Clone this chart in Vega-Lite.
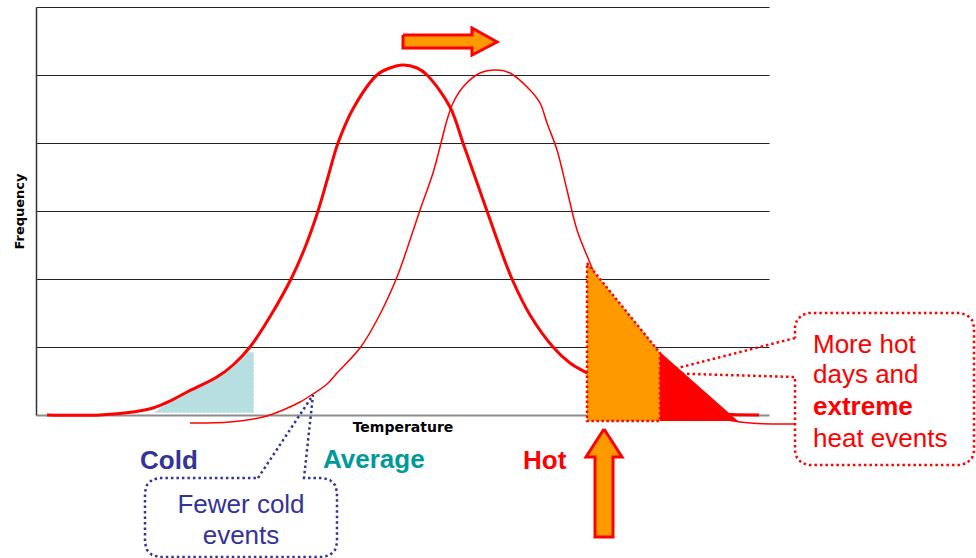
{
  "$schema": "https://vega.github.io/schema/vega-lite/v6.json",
  "width": 733,
  "height": 408,
  "autosize": {"type": "none"},
  "padding": {"left": 36, "top": 7, "right": 207, "bottom": 143},
  "background": "white",
  "config": {"view": {"stroke": null}, "font": "Liberation Sans"},
  "datasets": {
    "thick": [
      {"x": 11, "y": 0}, {"x": 64, "y": 0}, {"x": 97, "y": 3}, {"x": 117, "y": 7}, {"x": 134, "y": 14},
      {"x": 151, "y": 23}, {"x": 181, "y": 38}, {"x": 197, "y": 50}, {"x": 214, "y": 68}, {"x": 235, "y": 100},
      {"x": 256, "y": 138}, {"x": 270, "y": 170}, {"x": 282, "y": 204}, {"x": 292, "y": 238}, {"x": 302, "y": 272},
      {"x": 318, "y": 308}, {"x": 341, "y": 340}, {"x": 354, "y": 347}, {"x": 367, "y": 350}, {"x": 381, "y": 347},
      {"x": 391, "y": 340}, {"x": 414, "y": 308}, {"x": 427, "y": 272}, {"x": 439, "y": 238}, {"x": 451, "y": 204},
      {"x": 463, "y": 170}, {"x": 476, "y": 136}, {"x": 494, "y": 100}, {"x": 517, "y": 68}, {"x": 534, "y": 52},
      {"x": 551, "y": 42}, {"x": 574, "y": 30}, {"x": 604, "y": 15}, {"x": 644, "y": 5}, {"x": 684, "y": 1},
      {"x": 723, "y": 0}
    ],
    "thin": [
      {"x": 154, "y": -8}, {"x": 194, "y": -7}, {"x": 227, "y": -2}, {"x": 247, "y": 5}, {"x": 264, "y": 13},
      {"x": 277, "y": 21}, {"x": 291, "y": 31}, {"x": 301, "y": 42}, {"x": 324, "y": 67}, {"x": 341, "y": 95},
      {"x": 361, "y": 138}, {"x": 374, "y": 175}, {"x": 384, "y": 205}, {"x": 397, "y": 242}, {"x": 404, "y": 268},
      {"x": 411, "y": 295}, {"x": 417, "y": 312}, {"x": 427, "y": 328}, {"x": 444, "y": 342}, {"x": 461, "y": 345},
      {"x": 474, "y": 342}, {"x": 494, "y": 325}, {"x": 504, "y": 312}, {"x": 511, "y": 292}, {"x": 521, "y": 265},
      {"x": 531, "y": 225}, {"x": 541, "y": 185}, {"x": 554, "y": 152}, {"x": 574, "y": 105}, {"x": 604, "y": 55},
      {"x": 634, "y": 20}, {"x": 664, "y": 3}, {"x": 704, "y": -7}, {"x": 759, "y": -9}
    ],
    "cold": [
      {"x": 117, "y": 2}, {"x": 134, "y": 14}, {"x": 151, "y": 22}, {"x": 181, "y": 38}, {"x": 197, "y": 49},
      {"x": 212, "y": 63}, {"x": 218, "y": 63}
    ],
    "orange": [{"x": 551, "y": 152}, {"x": 624, "y": 62}],
    "redtri": [{"x": 624, "y": 63}, {"x": 702, "y": -6}],
    "arrowH": [
      {"i": 0, "x": 367, "y": 380}, {"i": 1, "x": 436, "y": 380}, {"i": 2, "x": 436, "y": 387}, {"i": 3, "x": 461, "y": 373},
      {"i": 4, "x": 436, "y": 360}, {"i": 5, "x": 436, "y": 367}, {"i": 6, "x": 367, "y": 367}, {"i": 7, "x": 367, "y": 380}
    ],
    "arrowV": [
      {"i": 0, "x": 568, "y": -14}, {"i": 1, "x": 586, "y": -42}, {"i": 2, "x": 577, "y": -42}, {"i": 3, "x": 577, "y": -122},
      {"i": 4, "x": 559, "y": -122}, {"i": 5, "x": 559, "y": -42}, {"i": 6, "x": 550, "y": -42}, {"i": 7, "x": 568, "y": -14}
    ],
    "calloutBlue": [
      {"i": 0, "x": 222, "y": -63}, {"i": 1, "x": 277, "y": 20}, {"i": 2, "x": 268, "y": -63}, {"i": 3, "x": 287, "y": -63},
      {"i": 4, "x": 294, "y": -65}, {"i": 5, "x": 299, "y": -70}, {"i": 6, "x": 301, "y": -77}, {"i": 7, "x": 301, "y": -128},
      {"i": 8, "x": 299, "y": -135}, {"i": 9, "x": 294, "y": -140}, {"i": 10, "x": 287, "y": -142}, {"i": 11, "x": 123, "y": -142},
      {"i": 12, "x": 116, "y": -140}, {"i": 13, "x": 111, "y": -135}, {"i": 14, "x": 109, "y": -128}, {"i": 15, "x": 109, "y": -77},
      {"i": 16, "x": 111, "y": -70}, {"i": 17, "x": 116, "y": -65}, {"i": 18, "x": 123, "y": -63}, {"i": 19, "x": 222, "y": -63}
    ],
    "calloutRed": [
      {"i": 0, "x": 759, "y": 77}, {"i": 1, "x": 622, "y": 42}, {"i": 2, "x": 759, "y": 38}, {"i": 3, "x": 759, "y": -36},
      {"i": 4, "x": 761, "y": -43}, {"i": 5, "x": 766, "y": -48}, {"i": 6, "x": 773, "y": -50}, {"i": 7, "x": 924, "y": -50},
      {"i": 8, "x": 931, "y": -48}, {"i": 9, "x": 936, "y": -43}, {"i": 10, "x": 938, "y": -36}, {"i": 11, "x": 938, "y": 88},
      {"i": 12, "x": 936, "y": 95}, {"i": 13, "x": 931, "y": 100}, {"i": 14, "x": 924, "y": 102}, {"i": 15, "x": 773, "y": 102},
      {"i": 16, "x": 766, "y": 100}, {"i": 17, "x": 761, "y": 95}, {"i": 18, "x": 759, "y": 88}, {"i": 19, "x": 759, "y": 77}
    ],
    "labels": [
      {"label": "Cold", "x": 104, "y": -54},
      {"label": "Average", "x": 287, "y": -53},
      {"label": "Hot", "x": 487, "y": -54}
    ],
    "blueText": [
      {"line": "Fewer cold", "x": 205, "y": -98},
      {"line": "events", "x": 205, "y": -129}
    ],
    "redText": [
      {"line": "More hot", "x": 777, "y": 62},
      {"line": "days and", "x": 777, "y": 32},
      {"line": "heat events", "x": 777, "y": -32}
    ],
    "redBold": [
      {"line": "extreme", "x": 777, "y": 0}
    ]
  },
  "encoding": {
    "x": {
      "field": "x", "type": "quantitative",
      "scale": {"domain": [0, 733], "nice": false, "zero": false},
      "axis": {
        "title": "Temperature", "labels": false, "ticks": false, "grid": false,
        "domainColor": "#8c8c8c", "domainWidth": 2,
        "titleFont": "DejaVu Sans", "titleFontSize": 14, "titleFontWeight": "bold", "titleColor": "#000000",
        "titleY": 16, "titleBaseline": "alphabetic"
      }
    },
    "y": {
      "field": "y", "type": "quantitative",
      "scale": {"domain": [0, 408], "nice": false, "zero": false},
      "axis": {
        "title": "Frequency", "labels": false, "ticks": false, "grid": true,
        "values": [68, 136, 204, 272, 340, 408],
        "gridColor": "#222222", "gridWidth": 1, "gridOpacity": 1,
        "domainColor": "#333333", "domainWidth": 1.5,
        "titleFont": "DejaVu Sans", "titleFontSize": 13, "titleFontWeight": "bold", "titleColor": "#000000",
        "titleX": -13, "titleY": 204, "titleAngle": 270, "titleBaseline": "alphabetic", "titleAlign": "center"
      }
    }
  },
  "layer": [
    {
      "data": {"name": "cold"},
      "mark": {"type": "area", "fill": "#B7DEE1", "stroke": "#ffffff", "strokeWidth": 1.2, "strokeDash": [2, 2]},
      "encoding": {"y2": {"datum": 2}}
    },
    {
      "data": {"name": "thick"},
      "mark": {"type": "line", "color": "#FF0000", "strokeWidth": 3, "interpolate": "catmull-rom"}
    },
    {
      "data": {"name": "thin"},
      "mark": {"type": "line", "color": "#FF0000", "strokeWidth": 1.5, "interpolate": "catmull-rom"}
    },
    {
      "data": {"name": "orange"},
      "mark": {"type": "area", "fill": "#FF9900", "stroke": "#FF0000", "strokeWidth": 2.5, "strokeDash": [2.5, 2.5]},
      "encoding": {"y2": {"datum": -6}}
    },
    {
      "data": {"name": "redtri"},
      "mark": {"type": "area", "fill": "#FF0000"},
      "encoding": {"y2": {"datum": -6}}
    },
    {
      "data": {"name": "calloutRed"},
      "mark": {"type": "line", "stroke": "#FF0000", "strokeWidth": 2.5, "strokeDash": [2.5, 3]},
      "encoding": {"order": {"field": "i"}}
    },
    {
      "data": {"name": "calloutBlue"},
      "mark": {"type": "line", "stroke": "#333399", "strokeWidth": 2.5, "strokeDash": [2.5, 3]},
      "encoding": {"order": {"field": "i"}}
    },
    {
      "data": {"name": "arrowH"},
      "mark": {"type": "line", "fill": "#FF9900", "stroke": "#FF0000", "strokeWidth": 3, "strokeJoin": "miter"},
      "encoding": {"order": {"field": "i"}}
    },
    {
      "data": {"name": "arrowV"},
      "mark": {"type": "line", "fill": "#FF9900", "stroke": "#FF0000", "strokeWidth": 3, "strokeJoin": "miter"},
      "encoding": {"order": {"field": "i"}}
    },
    {
      "data": {"name": "labels"},
      "mark": {"type": "text", "align": "left", "baseline": "alphabetic", "fontSize": 26, "fontWeight": "bold", "font": "Liberation Sans"},
      "encoding": {
        "text": {"field": "label"},
        "color": {
          "field": "label", "type": "nominal",
          "scale": {"domain": ["Cold", "Average", "Hot"], "range": ["#333399", "#009999", "#FF0000"]},
          "legend": null
        }
      }
    },
    {
      "data": {"name": "blueText"},
      "mark": {"type": "text", "align": "center", "baseline": "alphabetic", "fontSize": 26, "font": "Liberation Sans", "color": "#333399"},
      "encoding": {"text": {"field": "line"}}
    },
    {
      "data": {"name": "redText"},
      "mark": {"type": "text", "align": "left", "baseline": "alphabetic", "fontSize": 26, "font": "Liberation Sans", "color": "#FF0000"},
      "encoding": {"text": {"field": "line"}}
    },
    {
      "data": {"name": "redBold"},
      "mark": {"type": "text", "align": "left", "baseline": "alphabetic", "fontSize": 26, "fontWeight": "bold", "font": "Liberation Sans", "color": "#FF0000"},
      "encoding": {"text": {"field": "line"}}
    }
  ]
}
